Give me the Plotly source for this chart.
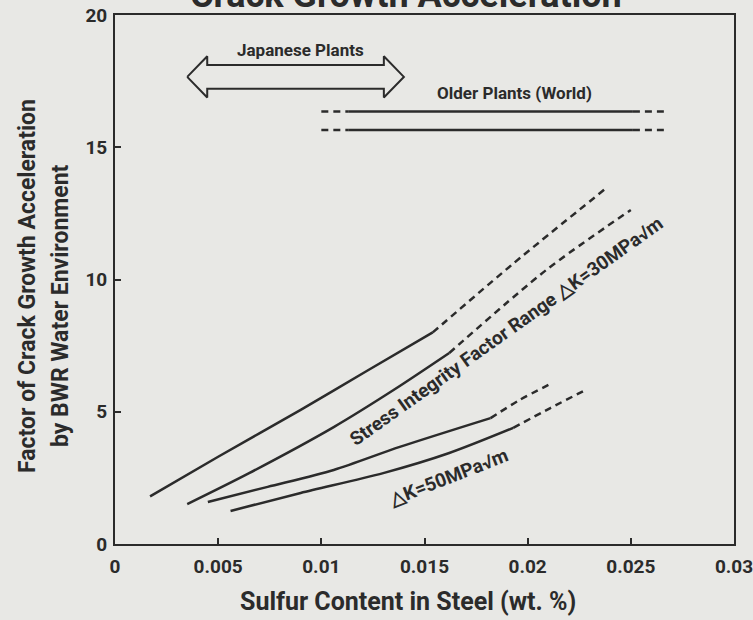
import plotly.graph_objects as go

# ---- data ----
x_ticks = [0, 0.005, 0.01, 0.015, 0.02, 0.025, 0.03]
x_tick_labels = ["0", "0.005", "0.01", "0.015", "0.02", "0.025", "0.03"]
y_ticks = [0, 5, 10, 15, 20]
y_tick_labels = ["0", "5", "10", "15", "20"]

# dK = 30 MPa sqrt(m), upper curve
a_solid_x = [0.0017, 0.005, 0.009, 0.0122, 0.0154]
a_solid_y = [1.8, 3.3, 5.07, 6.54, 8.0]
a_dash_x = [0.0154, 0.0193, 0.0238]
a_dash_y = [8.0, 10.6, 13.45]

# dK = 30 MPa sqrt(m), lower curve
b_solid_x = [0.0035, 0.0065, 0.0106, 0.0135, 0.0162]
b_solid_y = [1.51, 2.68, 4.42, 5.82, 7.22]
b_dash_x = [0.0162, 0.0209, 0.0250]
b_dash_y = [7.22, 10.36, 12.63]

# dK = 50 MPa sqrt(m), upper curve
c_solid_x = [0.0045, 0.0074, 0.0106, 0.0138, 0.0182]
c_solid_y = [1.59, 2.16, 2.80, 3.67, 4.76]
c_dash_x = [0.0182, 0.0196, 0.0212]
c_dash_y = [4.76, 5.44, 6.09]

# dK = 50 MPa sqrt(m), lower curve
d_solid_x = [0.0056, 0.0090, 0.0130, 0.0162, 0.0193]
d_solid_y = [1.25, 1.93, 2.68, 3.44, 4.39]
d_dash_x = [0.0193, 0.0211, 0.0229]
d_dash_y = [4.39, 5.14, 5.86]

# Older plants (world) band
older_levels = [16.35, 15.65]
older_solid_x = [0.0113, 0.0251]
older_dash_left_x = [0.0100, 0.0113]
older_dash_right_x = [0.0251, 0.0266]

# Japanese plants range (double arrow)
japan_range = [0.0035, 0.0140]
japan_level = 17.66

INK = "#2b2b2b"
BG = "#e8e8e5"
FONT = "Roboto, sans-serif"

fig = go.Figure()

def add_line(xs, ys, dash):
    fig.add_trace(go.Scatter(x=xs, y=ys, mode="lines",
                             line=dict(color=INK, width=2.5,
                                       dash="solid" if dash == "solid" else "7px,5px",
                                       shape="spline", smoothing=0.8),
                             hoverinfo="skip", showlegend=False))

for sx, sy, dx, dy in [(a_solid_x, a_solid_y, a_dash_x, a_dash_y),
                       (b_solid_x, b_solid_y, b_dash_x, b_dash_y),
                       (c_solid_x, c_solid_y, c_dash_x, c_dash_y),
                       (d_solid_x, d_solid_y, d_dash_x, d_dash_y)]:
    add_line(sx, sy, "solid")
    add_line(dx, dy, "dash")

for lvl in older_levels:
    add_line(older_solid_x, [lvl, lvl], "solid")
    add_line(older_dash_left_x, [lvl, lvl], "dash")
    add_line(older_dash_right_x, [lvl, lvl], "dash")

# hollow double arrow
x0, x1 = japan_range
hl, hh, sh = 0.00097, 0.78, 0.45
yc = japan_level
ax = [x0, x0 + hl, x0 + hl, x1 - hl, x1 - hl, x1, x1 - hl, x1 - hl, x0 + hl, x0 + hl, x0]
ay = [yc, yc + hh, yc + sh, yc + sh, yc + hh, yc, yc - hh, yc - sh, yc - sh, yc - hh, yc]
fig.add_trace(go.Scatter(x=ax, y=ay, mode="lines", line=dict(color=INK, width=2),
                         hoverinfo="skip", showlegend=False))

bold = dict(family=FONT, color=INK, weight="bold")

def pix(px, py, text, size, angle=0, **kw):
    return dict(x=0, y=0, xref="paper", yref="paper", xanchor="center", yanchor="middle",
                xshift=px - 115, yshift=544 - py, text=text, showarrow=False,
                textangle=angle, font=dict(size=size, **bold), **kw)

annotations = [
    dict(x=0.00897, y=18.68, xref="x", yref="y", text="Japanese Plants", showarrow=False,
         font=dict(size=17, **bold)),
    dict(x=0.01934, y=17.05, xref="x", yref="y", text="Older Plants (World)", showarrow=False,
         font=dict(size=17, **bold)),
    dict(x=0.01895, y=8.02, xref="x", yref="y", text="Stress Integrity Factor Range △K=30MPa√m",
         showarrow=False, textangle=-35.5, font=dict(size=19, **bold)),
    dict(x=0.01614, y=2.50, xref="x", yref="y", text="△K=50MPa√m",
         showarrow=False, textangle=-21.4, font=dict(size=19, **bold)),
    pix(408, 601, "Sulfur Content in Steel (wt. %)", 25),
    pix(27, 286, "Factor of Crack Growth Acceleration", 23, -90),
    pix(60, 306, "by BWR Water Environment", 23, -90),
    dict(x=0, y=1, xref="paper", yref="paper", xanchor="center", yanchor="bottom",
         xshift=406 - 115, yshift=-3, text="Crack Growth Acceleration", showarrow=False,
         font=dict(size=36, **bold)),
]

axis_common = dict(showline=True, linecolor=INK, linewidth=2, mirror=True, ticks="inside",
                   ticklen=6, tickwidth=2, tickcolor=INK, showgrid=False, zeroline=False,
                   ticklabeloverflow="allow", automargin=False,
                   tickfont=dict(family=FONT, size=19, color=INK, weight="bold"))

fig.update_layout(
    width=753, height=620,
    margin=dict(l=115, r=19, t=15, b=76, autoexpand=False),
    paper_bgcolor=BG, plot_bgcolor=BG,
    xaxis=dict(range=[0, 0.03], tickvals=x_ticks, ticktext=x_tick_labels, ticklabelstandoff=4,
               **axis_common),
    yaxis=dict(range=[0, 20], tickvals=y_ticks, ticktext=y_tick_labels, ticklabelstandoff=2,
               **axis_common),
    annotations=annotations,
    showlegend=False,
)

fig.write_html("out.html")
